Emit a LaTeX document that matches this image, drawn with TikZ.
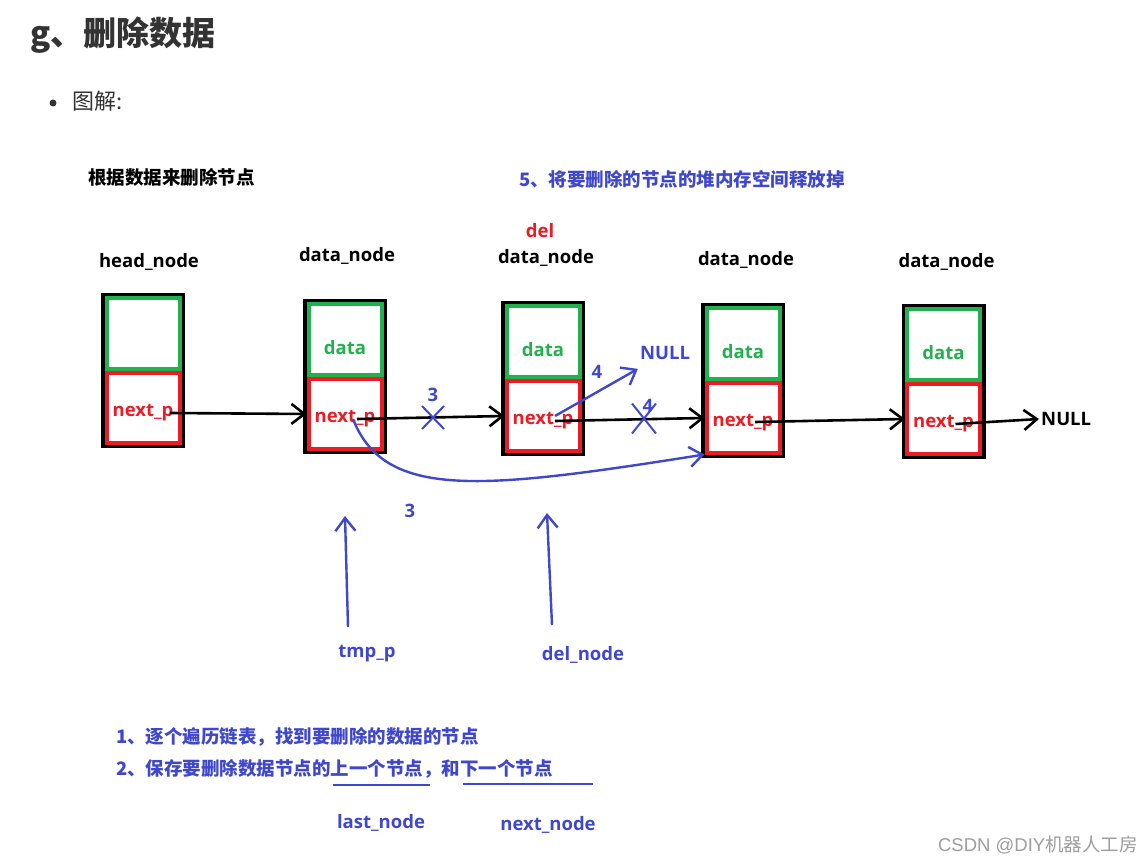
\documentclass[tikz,border=0pt]{standalone}
\usepackage{fontspec}
\setmainfont{Open Sans}
\newfontfamily\cjk{Noto Sans CJK SC}
\newfontfamily\wmfont{Liberation Sans}
\usetikzlibrary{positioning,arrows.meta,shapes.misc}

\definecolor{pblue}{RGB}{63,72,204}
\definecolor{pred}{RGB}{237,28,36}
\definecolor{pgreen}{RGB}{34,177,76}
\definecolor{titlegray}{RGB}{51,51,51}

\begin{document}
\begin{tikzpicture}[
  x=1pt,y=-1pt,inner sep=2pt,
  font=\fontsize{18.5}{22}\selectfont\bfseries,>={Straight Barb[length=13pt,width=20pt]},
  zh/.style={font=\cjk\fontsize{18.5}{22}\selectfont\bfseries},
  outerbox/.style={draw=black,line width=3.5pt,minimum width=80.5pt,minimum height=151.5pt,inner sep=0pt},
  datacell/.style={draw=pgreen,line width=4pt,minimum width=73pt,minimum height=71pt,
                   inner sep=0pt,text height=29pt,text=pgreen},
  ptrcell/.style={draw=pred,line width=4pt,minimum width=73pt,minimum height=69pt,
                  inner sep=0pt,text height=21pt,text=pred},
  link/.style={->,line width=2.6pt},
  blink/.style={->,line width=2.4pt,draw=pblue},
  xmark/.style={cross out,draw=pblue,line width=2pt,inner sep=0pt},
  note/.style={text=pblue},
]
  \fill[white] (0,0) rectangle (1143,866);
  \useasboundingbox (0,0) rectangle (1143,866);

  % heading
  \node[anchor=west,font=\cjk\fontsize{33}{38}\selectfont\bfseries,text=titlegray] (title)
    at (28,35) {g、删除数据};
  \node[circle,fill=titlegray,minimum size=7pt,inner sep=0pt] (dot) at (53,103) {};
  \node[anchor=west,font=\cjk\fontsize{22}{26}\selectfont,text=titlegray] (fig) at (70,101) {图解:};
  \node[zh,anchor=west] (hint) at (86,177) {根据数据来删除节点};
  \node[zh,note,anchor=west] (step5) at (517,179) {5、将要删除的节点的堆内存空间释放掉};

  % list nodes
  \node[outerbox] (n1) at (143,370.5) {};
  \node[datacell,below=3.5pt of n1.north] (d1) {};
  \node[ptrcell,below=0pt of d1] (p1) {next\_p};
  \node[outerbox] (n2) at (345,376.5) {};
  \node[datacell,below=3.5pt of n2.north] (d2) {data};
  \node[ptrcell,below=0pt of d2] (p2) {next\_p};
  \node[outerbox] (n3) at (543,378.5) {};
  \node[datacell,below=3.5pt of n3.north] (d3) {data};
  \node[ptrcell,below=0pt of d3] (p3) {next\_p};
  \node[outerbox] (n4) at (743,380.5) {};
  \node[datacell,below=3.5pt of n4.north] (d4) {data};
  \node[ptrcell,below=0pt of d4] (p4) {next\_p};
  \node[outerbox] (n5) at (943.5,381.5) {};
  \node[datacell,below=3.5pt of n5.north] (d5) {data};
  \node[ptrcell,below=0pt of d5] (p5) {next\_p};

  \node[above=20pt of n1,xshift=6pt] (lab1) {head\_node};
  \node[above=32pt of n2,xshift=2pt] (lab2) {data\_node};
  \node[above=32pt of n3,xshift=3pt] (lab3) {data\_node};
  \node[above=32pt of n4,xshift=3pt] (lab4) {data\_node};
  \node[above=31pt of n5,xshift=3pt] (lab5) {data\_node};
  \node[text=pred,above=8pt of lab3,xshift=-6pt] (del) {del};
  \node[anchor=west] (null) at (1039,419) {NULL};

  % old links
  \draw[link] ([xshift=27pt,yshift=-5pt]p1.center) -- (p2.west);
  \draw[link] ([xshift=12pt,yshift=-5pt]p2.center) -- (p3.west);
  \draw[link] ([xshift=12pt,yshift=-5pt]p3.center) -- (p4.west);
  \draw[link] ([xshift=12pt,yshift=-4pt]p4.center) -- (p5.west);
  \draw[link] ([xshift=12pt,yshift=-5pt]p5.center) -- (null.west);

  % cut links
  \node[xmark,minimum width=20pt,minimum height=21pt] (x1) at (433,417.5) {};
  \node[note,above=2pt of x1] (k3) {3};
  \node[xmark,minimum width=22pt,minimum height=28pt] (x2) at (644,418.5) {};
  \node[note] (k4b) at (648,406) {4};

  % new links
  \node[note] (nullb) at (665,353) {NULL};
  \node[note] (k4) at (597,372) {4};
  \draw[blink] ([xshift=12pt]p3.center) -- ([yshift=-7pt]nullb.south west);
  \draw[blink] ([xshift=8pt,yshift=-5pt]p2.center) .. controls (385,500) and (480,490) .. (p4.south west);
  \node[note] (k3b) at (410,511) {3};

  % pointers
  \node[note] (tmp) at (367,654) {tmp\_p};
  \node[note] (deln) at (583,655) {del\_node};
  \coordinate (tmptail) at (348,627);
  \coordinate (tmptip) at (345,516);
  \coordinate (deltail) at (552,625);
  \coordinate (deltip) at (547,513);
  \draw[blink] (tmptail) -- (tmptip);
  \draw[blink] (deltail) -- (deltip);

  % steps
  \node[zh,note,anchor=west] (s1) at (114,737) {1、逐个遍历链表，找到要删除的数据的节点};
  \node[zh,note,anchor=west] (s2) at (114,769) {2、保存要删除数据节点的上一个节点，和下一个节点};
  \draw[pblue,line width=2.5pt] (333,785) -- (430,785);
  \draw[pblue,line width=2.5pt] (463,784) -- (593,784);
  \node[note] (last) at (381,823) {last\_node};
  \node[note] (next) at (548,825) {next\_node};

  \node[anchor=east,text=black!38,font=\fontsize{18.5}{22}\selectfont] (wm) at (1140,845)
    {\wmfont CSDN @DIY\cjk 机器人工房};
\end{tikzpicture}
\end{document}
